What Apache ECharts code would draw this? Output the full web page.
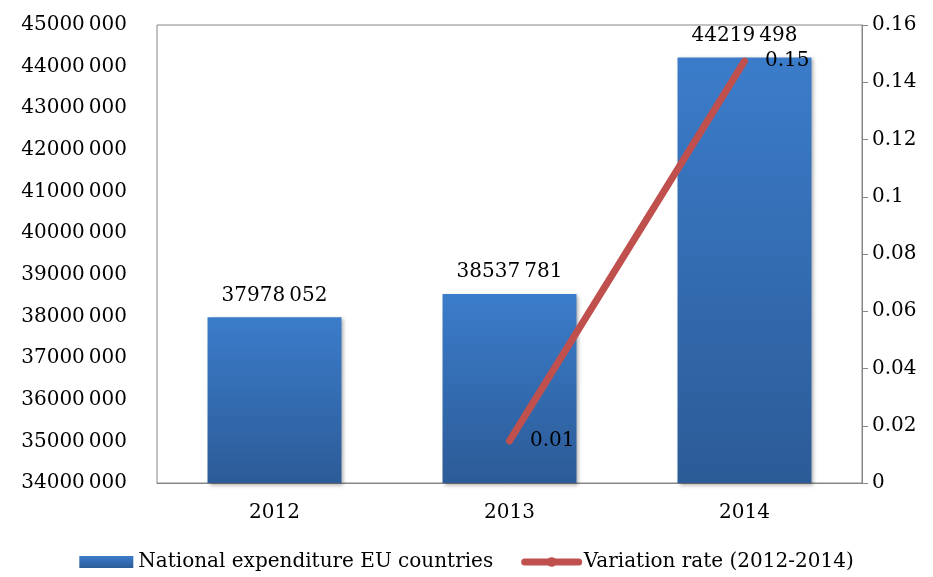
<!DOCTYPE html>
<html>
<head>
<meta charset="utf-8">
<script src="https://cdn.jsdelivr.net/npm/echarts@6/dist/echarts.min.js"></script>
<style>
	html, body { margin:0; padding:0; background:#fff; }
	#chartContainer { width:933px; height:577px; }
</style>
</head>
<body>
<div id="chartContainer"></div>
<script>
var years = ['2012', '2013', '2014'];
var expenditure = [37978052, 38537781, 44219498];
var variation = [null, 0.0147, 0.1474];
var leftTicks = { min: 34000000, max: 45000000, step: 1000000 };
var rightTicks = { min: 0, max: 0.16, step: 0.02 };

var FONT = 'DejaVu Serif';

// 37978052 -> "37978 052"
function spaced(v) {
	var s = String(Math.round(v));
	return s.slice(0, s.length - 3) + '\u2009' + s.slice(s.length - 3);
}

var myChart = echarts.init(document.getElementById('chartContainer'));
var option = {
	animation: false,
	textStyle: { fontFamily: FONT },
	legend: {
		bottom: 0,
		left: 'center',
		itemWidth: 54,
		itemHeight: 12,
		itemGap: 28,
		textStyle: { fontFamily: FONT, fontSize: 20, color: '#000' },
		data: [
			{ name: 'National expenditure EU countries', icon: 'rect' },
			{ name: 'Variation rate (2012-2014)', lineStyle: { width: 7, cap: 'round', color: '#c0504d' } }
		]
	},
	grid: {
		show: true,
		borderColor: '#868686',
		borderWidth: 1,
		left: 157,
		right: 71,
		top: 25,
		bottom: 94
	},
	xAxis: [{
		type: 'category',
		data: years,
		axisTick: { show: false },
		axisLine: { lineStyle: { color: '#868686' } },
		axisLabel: { color: '#000', fontSize: 20, margin: 20, fontFamily: FONT }
	}],
	yAxis: [{
		type: 'value',
		position: 'left',
		min: leftTicks.min,
		max: leftTicks.max,
		interval: leftTicks.step,
		splitLine: { show: false },
		axisLine: { show: false },
		axisTick: { show: false },
		axisLabel: { color: '#000', fontSize: 20, margin: 30, fontFamily: FONT, formatter: spaced }
	}, {
		type: 'value',
		position: 'right',
		min: rightTicks.min,
		max: rightTicks.max,
		interval: rightTicks.step,
		splitLine: { show: false },
		axisLine: { show: true, lineStyle: { color: '#868686' } },
		axisTick: { show: true, inside: false, length: 6, lineStyle: { color: '#868686' } },
		axisLabel: { color: '#000', fontSize: 20, margin: 10, fontFamily: FONT,
			formatter: function (v) { return String(+v.toFixed(2)); } }
	}],
	series: [{
		name: 'National expenditure EU countries',
		type: 'bar',
		yAxisIndex: 0,
		barWidth: '57%',
		data: expenditure,
		itemStyle: {
			color: new echarts.graphic.LinearGradient(0, 0, 0, 1, [
				{ offset: 0, color: '#3b7cca' },
				{ offset: 1, color: '#2c5b97' }
			]),
			shadowBlur: 4,
			shadowColor: 'rgba(0,0,0,0.35)',
			shadowOffsetX: 2,
			shadowOffsetY: 2
		},
		label: {
			show: true,
			position: 'top',
			distance: 12,
			color: '#000',
			fontSize: 20,
			fontFamily: FONT,
			formatter: function (p) { return spaced(p.value); }
		}
	}, {
		name: 'Variation rate (2012-2014)',
		type: 'line',
		yAxisIndex: 1,
		data: variation,
		symbol: 'circle',
		symbolSize: 1,
		itemStyle: { color: '#c0504d' },
		lineStyle: { color: '#c0504d', width: 7, cap: 'round' },
		label: {
			show: true,
			position: 'right',
			distance: 20,
			color: '#000',
			fontSize: 20,
			fontFamily: FONT,
			formatter: function (p) { return p.value == null ? '' : p.value.toFixed(2); }
		}
	}]
};
myChart.setOption(option);
</script>
</body>
</html>
